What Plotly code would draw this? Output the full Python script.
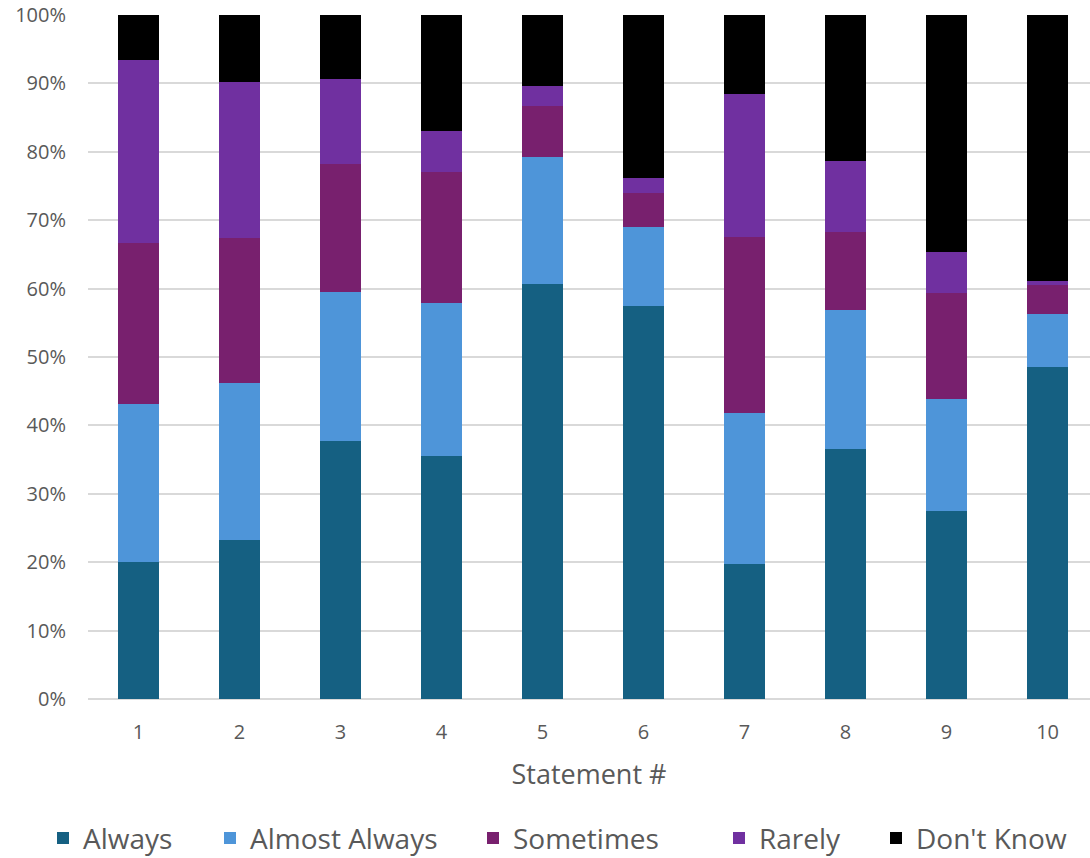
import plotly.graph_objects as go

statements = ["1", "2", "3", "4", "5", "6", "7", "8", "9", "10"]
always = [20.0, 23.2, 37.7, 35.5, 60.7, 57.5, 19.7, 36.5, 27.5, 48.5]
almost_always = [23.1, 23.0, 21.8, 22.4, 18.5, 11.5, 22.1, 20.4, 16.4, 7.8]
sometimes = [23.6, 21.2, 18.7, 19.1, 7.5, 5.0, 25.7, 11.4, 15.5, 4.2]
rarely = [26.7, 22.8, 12.4, 6.0, 2.9, 2.2, 21.0, 10.4, 6.0, 0.6]
dont_know = [6.6, 9.8, 9.4, 17.0, 10.4, 23.8, 11.5, 21.3, 34.6, 38.9]

series = [
    ("Always", always, "#156082"),
    ("Almost Always", almost_always, "#4E95D9"),
    ("Sometimes", sometimes, "#78206E"),
    ("Rarely", rarely, "#7030A0"),
    ("Don't Know", dont_know, "#000000"),
]
# legend entry left edges (px) for each series
legend_left_px = [50, 217, 480, 726, 883]

font_family = "Open Sans, Liberation Sans, sans-serif"
text_color = "#595959"

fig = go.Figure()
legend_keys = ["legend", "legend2", "legend3", "legend4", "legend5"]
for (name, vals, color), lk in zip(series, legend_keys):
    fig.add_trace(go.Bar(
        x=statements, y=vals, name=name, legend=lk, showlegend=True,
        marker=dict(color=color, line=dict(width=0)),
    ))

layout_legends = {}
for lk, px in zip(legend_keys, legend_left_px):
    layout_legends[lk] = dict(
        orientation="h", x=(px - 7) / 1090, xref="container", xanchor="left",
        y=0.023, yref="container", yanchor="middle",
        font=dict(size=28, color=text_color),
        itemwidth=30, bgcolor="rgba(0,0,0,0)",
    )

fig.update_layout(
    showlegend=True,
    barmode="stack",
    bargap=0.594,
    width=1090, height=858,
    margin=dict(l=88, r=0, t=15, b=159, autoexpand=False),
    plot_bgcolor="white", paper_bgcolor="white",
    font=dict(family=font_family, color=text_color),
    xaxis=dict(
        range=[-0.5, 9.42],
        showgrid=False, showline=False, zeroline=False,
        tickfont=dict(size=20, color=text_color),
        ticks="", ticklabelstandoff=19,
        title=dict(text="Statement #", font=dict(size=27, color=text_color), standoff=21),
        automargin=False,
    ),
    yaxis=dict(
        range=[0, 100],
        tickvals=[0, 10, 20, 30, 40, 50, 60, 70, 80, 90, 100],
        ticktext=["0%", "10%", "20%", "30%", "40%", "50%", "60%", "70%", "80%", "90%", "100%"],
        tickfont=dict(size=20, color=text_color),
        showgrid=True, gridcolor="#D9D9D9", gridwidth=1.5,
        zeroline=True, zerolinecolor="#D9D9D9", zerolinewidth=1.5,
        showline=False, ticks="", ticklabelstandoff=21,
        automargin=False,
    ),
    **layout_legends,
)

fig.write_html("out.html")
